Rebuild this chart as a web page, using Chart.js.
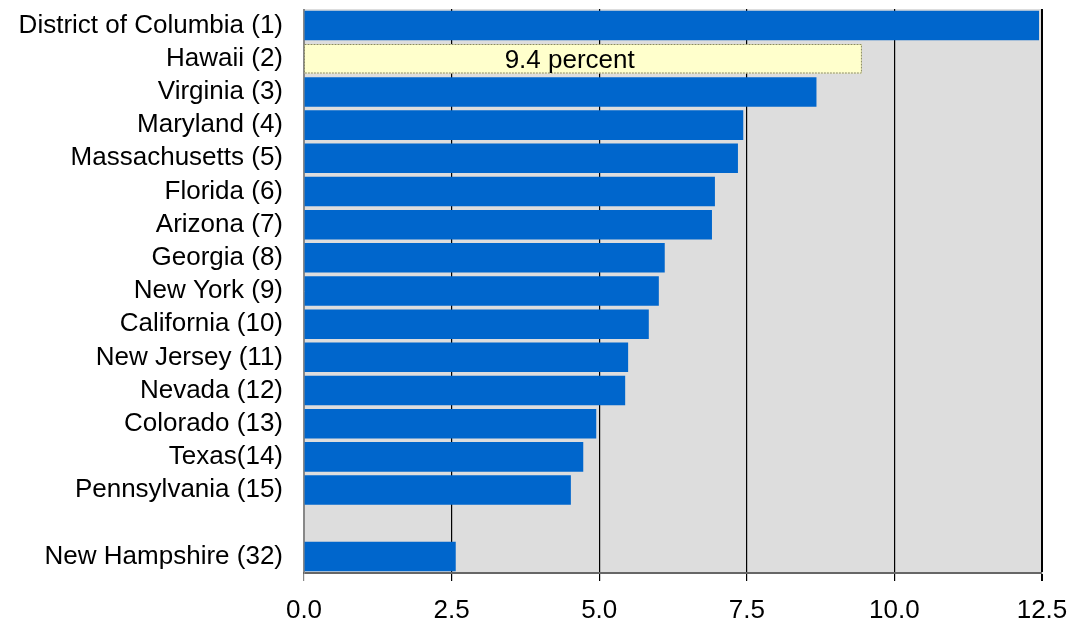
<!DOCTYPE html>
<html>
<head>
<meta charset="utf-8">
<script src="https://cdn.jsdelivr.net/npm/chart.js@4"></script>
<style>
  html, body { margin: 0; padding: 0; background: #fff; }
  #wrap { width: 1078px; height: 633px; }
</style>
</head>
<body>
<div id="wrap"><canvas id="rankChart"></canvas></div>
<script>
const states = ['District of Columbia (1)', 'Hawaii (2)', 'Virginia (3)', 'Maryland (4)', 'Massachusetts (5)',
    'Florida (6)', 'Arizona (7)', 'Georgia (8)', 'New York (9)', 'California (10)', 'New Jersey (11)',
    'Nevada (12)', 'Colorado (13)', 'Texas(14)', 'Pennsylvania (15)', '', 'New Hampshire (32)'];
const percents = [12.45, 9.45, 8.68, 7.44, 7.35, 6.96, 6.91, 6.11, 6.01, 5.84, 5.49, 5.44, 4.95, 4.73, 4.52, null, 2.57];
const xTicks = [0, 2.5, 5, 7.5, 10, 12.5];
const highlightIndex = 1;
const highlightLabel = '9.4 percent';

const barColors = percents.map((v, i) => i === highlightIndex ? '#FFFFCC' : '#0066CC');
const FONT = '"Liberation Sans", Arial, sans-serif';
const FONT_SIZE = 26;

const plotBackground = {
    id: 'plotBackground',
    beforeDraw(chart) {
        const { ctx, chartArea: a } = chart;
        ctx.save();
        ctx.fillStyle = '#DDDDDD';
        ctx.fillRect(a.left, a.top, a.right - a.left, a.bottom - a.top);
        ctx.restore();
    }
};

// dashed outline + text on the highlighted bar
const highlightBar = {
    id: 'highlightBar',
    afterDatasetsDraw(chart) {
        const { ctx } = chart;
        const bar = chart.getDatasetMeta(0).data[highlightIndex];
        const h = bar.height;
        const left = chart.scales.x.getPixelForValue(0);
        ctx.save();
        ctx.strokeStyle = '#888866';
        ctx.lineWidth = 1;
        ctx.setLineDash([2, 1]);
        ctx.strokeRect(left + 0.5, bar.y - h / 2 + 0.5, bar.x - left - 1, h - 1);
        ctx.setLineDash([]);
        ctx.fillStyle = '#000';
        ctx.font = FONT_SIZE + 'px ' + FONT;
        ctx.textAlign = 'center';
        ctx.textBaseline = 'middle';
        ctx.fillText(highlightLabel, chart.scales.x.getPixelForValue(4.5), bar.y + 2);
        ctx.restore();
    }
};

new Chart(document.getElementById('rankChart'), {
    type: 'bar',
    data: {
        labels: states,
        datasets: [{ data: percents, backgroundColor: barColors, borderWidth: 0,
            barPercentage: 0.89, categoryPercentage: 1 }]
    },
    options: {
        indexAxis: 'y',
        responsive: true,
        maintainAspectRatio: false,
        animation: false,
        layout: { padding: { top: 9, right: 36, left: 0, bottom: 0 } },
        plugins: { legend: { display: false }, tooltip: { enabled: false } },
        scales: {
            x: {
                min: 0, max: 12.5,
                afterBuildTicks: s => { s.ticks = xTicks.map(v => ({ value: v })); },
                afterFit: s => { s.height = 60; s.paddingRight = 0; s.paddingLeft = 0; },
                ticks: { color: '#000', font: { family: FONT, size: FONT_SIZE }, padding: 14,
                    maxRotation: 0, autoSkip: false, callback: v => Number(v).toFixed(1) },
                grid: { color: c => c.tick && c.tick.value === 0 ? '#888' : '#000',
                    lineWidth: c => c.tick && c.tick.value === 12.5 ? 2 : 1.2, tickLength: 8 },
                border: { color: '#666', width: 2 }
            },
            y: {
                afterFit: s => { s.width = 304; s.paddingTop = 0; s.paddingBottom = 0; },
                ticks: { color: '#000', font: { family: FONT, size: FONT_SIZE }, padding: 13, autoSkip: false },
                grid: { display: false },
                border: { color: '#888', width: 1 }
            }
        }
    },
    plugins: [plotBackground, highlightBar]
});
</script>
</body>
</html>
